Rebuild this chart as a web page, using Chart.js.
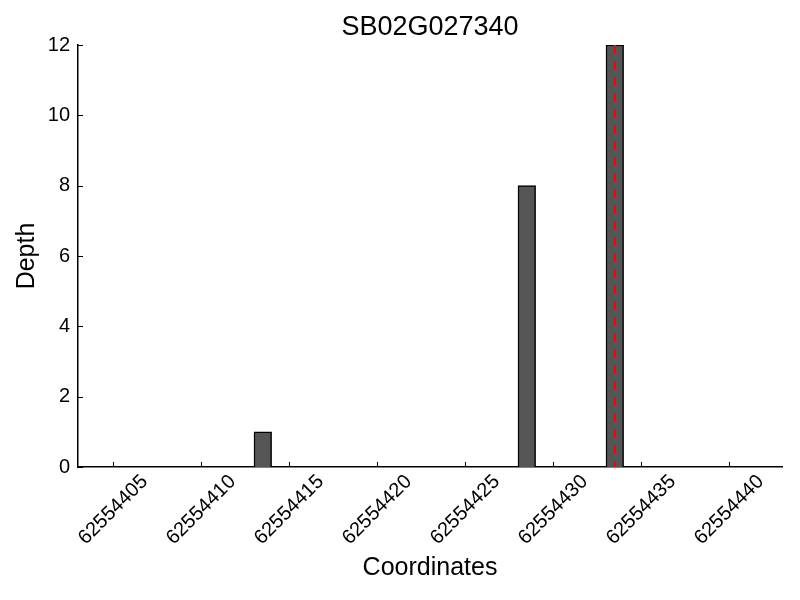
<!DOCTYPE html>
<html>
<head>
<meta charset="utf-8">
<title>SB02G027340</title>
<script src="https://cdn.jsdelivr.net/npm/chart.js@4.4.1/dist/chart.umd.min.js"></script>
<style>
    html, body { margin: 0; padding: 0; background: #ffffff; }
    #depthChart { display: block; }
</style>
</head>
<body>
<canvas id="depthChart" width="800" height="600"></canvas>
<script>
'use strict';

// gene / chart title
var geneName = 'SB02G027340';

// covered positions and their read depth (positions with 0 depth draw nothing)
var coordinates = [62554413, 62554428, 62554433];
var depths = [1, 8, 12];

// position marked by the red dashed line
var markerCoord = 62554433;

// axis ranges and tick labels
var xMin = 62554403;
var xMax = 62554443;
var xTicks = [62554405, 62554410, 62554415, 62554420, 62554425, 62554430, 62554435, 62554440];
var yMin = 0;
var yMax = 12;
var yStep = 2;

var fontFamily = "'Liberation Sans', Arial, Helvetica, sans-serif";

/*
 * each base covers [pos, pos + 1) so bars are centered half a unit to the right
 */
var barData = coordinates.map(function(c, i) {
    return { x: c + 0.5, y: depths[i] };
});

var markerData = [
    { x: markerCoord + 0.5, y: yMax },
    { x: markerCoord + 0.5, y: yMin }
];

//draws the title over the plot area, the inward tick marks and the rotated x labels
var axisDecor = {
    id: 'axisDecor',
    afterDraw: function(chart) {
        var ctx = chart.ctx;
        var area = chart.chartArea;
        var xs = chart.scales.x;
        var ys = chart.scales.y;

        ctx.save();

        //title centred on the plot area
        ctx.fillStyle = '#000000';
        ctx.font = '27px ' + fontFamily;
        ctx.textAlign = 'center';
        ctx.textBaseline = 'middle';
        ctx.fillText(geneName, (area.left + area.right) / 2, 28);

        ctx.strokeStyle = '#000000';
        ctx.lineWidth = 1;

        //x tick marks pointing up into the plot
        xs.ticks.forEach(function(t) {
            var px = Math.round(xs.getPixelForValue(t.value)) + 0.5;
            ctx.beginPath();
            ctx.moveTo(px, area.bottom);
            ctx.lineTo(px, area.bottom - 5);
            ctx.stroke();
        });

        //y tick marks pointing right into the plot
        ys.ticks.forEach(function(t) {
            var py = Math.round(ys.getPixelForValue(t.value)) + 0.5;
            ctx.beginPath();
            ctx.moveTo(area.left, py);
            ctx.lineTo(area.left + 5, py);
            ctx.stroke();
        });

        //x labels turned 45 degrees around their middle, centred under the tick
        ctx.font = '20px ' + fontFamily;
        xs.ticks.forEach(function(t) {
            var px = xs.getPixelForValue(t.value);
            ctx.save();
            ctx.translate(px, area.bottom + 43);
            ctx.rotate(-Math.PI / 4);
            ctx.fillText(String(t.value), 0, 0);
            ctx.restore();
        });
        ctx.restore();
    }
};

var ctx = document.getElementById('depthChart').getContext('2d');

window.depthChart = new Chart(ctx, {
    type: 'bar',
    data: {
        datasets: [{
            type: 'line',
            data: markerData,
            borderColor: '#ff0000',
            borderWidth: 2.5,
            borderDash: [8, 8],
            pointRadius: 0,
            fill: false,
            order: 0
        }, {
            type: 'bar',
            data: barData,
            backgroundColor: '#555555',
            borderColor: '#000000',
            borderWidth: 1.5,
            barThickness: 17.6,
            order: 1
        }]
    },
    options: {
        responsive: false,
        animation: false,
        layout: {
            padding: { top: 45, right: 18, bottom: 0, left: 0 }
        },
        plugins: {
            legend: { display: false },
            tooltip: { enabled: false },
            title: { display: false }
        },
        scales: {
            x: {
                type: 'linear',
                min: xMin,
                max: xMax,
                offset: false,
                grid: { display: false, drawTicks: false },
                border: { display: true, color: '#000000', width: 1.5 },
                ticks: { display: false },
                afterBuildTicks: function(scale) {
                    scale.ticks = xTicks.map(function(v) { return { value: v }; });
                },
                afterFit: function(scale) {
                    scale.height = 133;
                },
                title: {
                    display: true,
                    text: 'Coordinates',
                    color: '#000000',
                    font: { family: fontFamily, size: 25, weight: 'normal' },
                    padding: { top: 0, bottom: 17 }
                }
            },
            y: {
                min: yMin,
                max: yMax,
                grid: { display: false, drawTicks: false },
                border: { display: true, color: '#000000', width: 1.5 },
                ticks: {
                    stepSize: yStep,
                    color: '#000000',
                    padding: 8,
                    font: { family: fontFamily, size: 20 }
                },
                afterFit: function(scale) {
                    scale.width = 78;
                },
                title: {
                    display: true,
                    text: 'Depth',
                    color: '#000000',
                    font: { family: fontFamily, size: 25, weight: 'normal' },
                    padding: { top: 12, bottom: 0 }
                }
            }
        }
    },
    plugins: [axisDecor]
});
</script>
</body>
</html>
